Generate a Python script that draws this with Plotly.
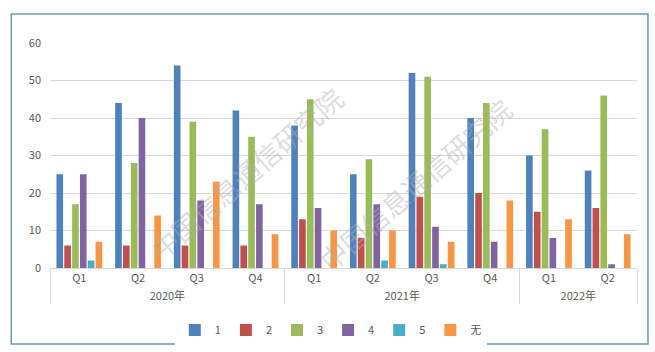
import plotly.graph_objects as go

years = ["2020年"] * 4 + ["2021年"] * 4 + ["2022年"] * 2
quarters = ["Q1", "Q2", "Q3", "Q4", "Q1", "Q2", "Q3", "Q4", "Q1", "Q2"]

series_names = ["1", "2", "3", "4", "5", "无"]
s1 = [25, 44, 54, 42, 38, 25, 52, 40, 30, 26]
s2 = [6, 6, 6, 6, 13, 8, 19, 20, 15, 16]
s3 = [17, 28, 39, 35, 45, 29, 51, 44, 37, 46]
s4 = [25, 40, 18, 17, 16, 17, 11, 7, 8, 1]
s5 = [2, 0, 0, 0, 0, 2, 1, 0, 0, 0]
s6 = [7, 14, 23, 9, 10, 10, 7, 18, 13, 9]
colors = ["#4F81BD", "#C0504D", "#9BBB59", "#8064A2", "#4BACC6", "#F79646"]

fig = go.Figure()
for name, vals, c in zip(series_names, [s1, s2, s3, s4, s5, s6], colors):
    fig.add_trace(go.Bar(x=[years, quarters], y=vals, name=name, marker_color=c,
                         marker_line_width=0))

font_family = "Noto Sans CJK SC, Noto Sans, sans-serif"

# watermarks
for (xc, yc) in [(0.334, 0.42), (0.622, 0.37)]:
    fig.add_annotation(text="中国信息通信研究院", xref="paper", yref="paper", x=xc, y=yc,
                       showarrow=False, textangle=-41,
                       font=dict(size=27, color="rgba(175,175,175,0.45)", family=font_family))

# outer border
fig.add_shape(type="rect", xref="paper", yref="paper", x0=-0.066, x1=1.0187,
              y0=-0.338, y1=1.129, line=dict(color="#6A9BB3", width=1.5),
              fillcolor="rgba(0,0,0,0)", layer="below")

fig.update_layout(
    width=655, height=352,
    margin=dict(l=50, r=18, t=43, b=84, autoexpand=False),
    paper_bgcolor="white", plot_bgcolor="white",
    barmode="group", bargap=0.2, bargroupgap=0.15,
    font=dict(family=font_family, color="#595959", size=11),
    showlegend=True,
    legend=dict(orientation="h", x=0.505, xanchor="center", xref="container",
                y=0.0625, yanchor="middle", yref="container",
                font=dict(size=11, color="#595959"), itemwidth=30,
                entrywidth=0, itemclick=False, traceorder="normal"),
    xaxis=dict(showgrid=False, showline=True, linecolor="#D9D9D9", automargin=False,
               tickfont=dict(size=11, color="#595959"), dividercolor="#D9D9D9",
               dividerwidth=1, ticks="outside", ticklen=6,
               tickcolor="rgba(0,0,0,0)"),
    yaxis=dict(range=[0, 60], dtick=10, showgrid=True, gridcolor="#D9D9D9",
               zeroline=False, tickfont=dict(size=11, color="#595959"),
               ticklabelstandoff=8, automargin=False),
)

fig.write_html("out.html")
